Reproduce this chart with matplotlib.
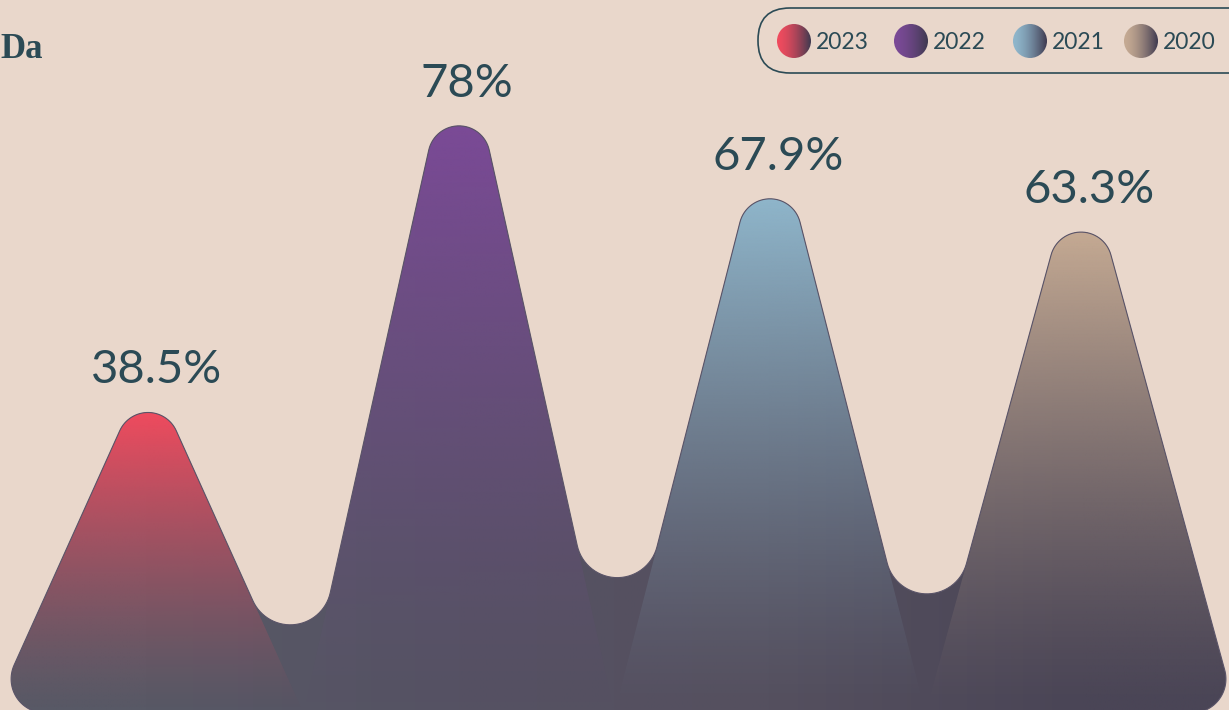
import numpy as np
import matplotlib
matplotlib.use('Agg')
import matplotlib.pyplot as plt
from matplotlib.colors import to_rgb
from matplotlib.path import Path
from matplotlib.patches import PathPatch, Circle, FancyBboxPatch

# data
years = ['2023', '2022', '2021', '2020']
values = [38.5, 78, 67.9, 63.3]
top_colors = ['#F04B5E', '#7B4A97', '#8FB6CB', '#C5AA93']
bottom_colors = ['#585966', '#555263', '#55505F', '#4A4556']

BG = '#E9D7CB'
INK = '#2B4A55'

plt.rcParams['font.family'] = ['Lato', 'DejaVu Sans']

fig = plt.figure(figsize=(12.29, 7.10), dpi=100)
fig.patch.set_facecolor(BG)
ax = fig.add_axes([0, 0, 1, 1])
ax.set_facecolor(BG)
ax.axis('off')
ax.set_xlim(-148 / 311, (1229 - 148) / 311)
ax.set_ylim(3 / 8.96, 713 / 8.96)
ax.set_autoscale_on(False)


def fillet(points, radii, n=32):
    # round the corners of a closed polygon (pixel space)
    out = []
    m = len(points)
    for j in range(m):
        p = points[j]
        r = radii[j]
        if r <= 0:
            out.append(p)
            continue
        a = points[j - 1]
        c = points[(j + 1) % m]
        u1 = (a - p) / np.linalg.norm(a - p)
        u2 = (c - p) / np.linalg.norm(c - p)
        half = np.arccos(np.clip(u1 @ u2, -1, 1)) / 2
        d = r / np.tan(half)
        t1 = p + u1 * d
        t2 = p + u2 * d
        bis = (u1 + u2) / np.linalg.norm(u1 + u2)
        o = p + bis * r / np.sin(half)
        a1 = np.arctan2(t1[1] - o[1], t1[0] - o[0])
        a2 = np.arctan2(t2[1] - o[1], t2[0] - o[0])
        delta = (a2 - a1 + np.pi) % (2 * np.pi) - np.pi
        ang = a1 + delta * np.linspace(0, 1, n)
        out.extend(o + r * np.c_[np.cos(ang), np.sin(ang)])
    return np.array(out)


def rounded_path(data_pts, radii):
    px = ax.transData.transform(np.array(data_pts, dtype=float))
    rounded = fillet(px, radii)
    back = ax.transData.inverted().transform(rounded)
    verts = np.vstack([back, back[:1]])
    codes = [Path.MOVETO] + [Path.LINETO] * (len(back) - 1) + [Path.CLOSEPOLY]
    return Path(verts, codes)


R_TOP, R_VALLEY, R_BASE = 31, 41, 34
n = len(values)

# whole silhouette
outline = [(-0.5, 0)]
radii = [R_BASE]
for i, v in enumerate(values):
    outline.append((i, v))
    radii.append(R_TOP)
    if i < n - 1:
        outline.append((i + 0.5, 0))
        radii.append(R_VALLEY)
outline.append((n - 0.5, 0))
radii.append(R_BASE)
union = rounded_path(outline, radii)
union_clip = PathPatch(union, facecolor='none', edgecolor='none', transform=ax.transData)
ax.add_patch(union_clip)

# dark base, blending the bottom colours from left to right
xs = np.linspace(-0.5, n - 0.5, 400)
base_rgb = np.array([to_rgb(c) for c in bottom_colors])
row = np.stack([np.interp(xs, np.arange(n), base_rgb[:, k]) for k in range(3)], axis=-1)
base_img = np.repeat(row[None, :, :], 2, axis=0)
im = ax.imshow(base_img, extent=(-0.5, n - 0.5, 0, max(values)), origin='lower',
               aspect='auto', zorder=1, interpolation='bilinear')
im.set_clip_path(union_clip)

# each mountain: its colour fading into the dark base
for i, v in enumerate(values):
    tri = [(i - 0.5, 0), (i, v), (i + 0.5, 0)]
    rr = [R_BASE if i == 0 else 0, R_TOP, R_BASE if i == n - 1 else 0]
    path = rounded_path(tri, rr)
    top = path.vertices[:, 1].max()
    clip = PathPatch(path, facecolor='none', edgecolor='none', transform=ax.transData)
    ax.add_patch(clip)
    t = np.linspace(0, 1, 256)
    rgba = np.zeros((256, 1, 4))
    rgba[:, 0, :3] = to_rgb(top_colors[i])
    rgba[:, 0, 3] = t ** 1.35
    im = ax.imshow(rgba, extent=(i - 0.5, i + 0.5, 0, top), origin='lower',
                   aspect='auto', zorder=2, interpolation='bilinear')
    im.set_clip_path(clip)
    ax.annotate(f'{v:g}%', (i, top), xytext=(6, 21), textcoords='offset points',
                ha='center', va='baseline', fontsize=34, fontweight='normal',
                color=INK, zorder=5)

ax.add_patch(PathPatch(union, facecolor='none', edgecolor='#5A5468', lw=0.8, zorder=3))

# overlay in pixel units for title and legend
ov = fig.add_axes([0, 0, 1, 1], facecolor='none')
ov.axis('off')
ov.set_xlim(0, 1229)
ov.set_ylim(710, 0)
ov.set_autoscale_on(False)

ov.text(0, 58, 'Da', fontsize=25, fontweight='bold', color=INK,
        family=['Liberation Serif', 'DejaVu Serif'], va='baseline', ha='left')

ov.add_patch(FancyBboxPatch((758, 8), 520, 65, boxstyle='round,pad=0,rounding_size=32',
                            facecolor='none', edgecolor=INK, lw=1.2))
legend_x = [794, 911, 1030, 1141]
for cx, yr, col in zip(legend_x, years, top_colors):
    circ = Circle((cx, 41), 17, facecolor='none', edgecolor='none')
    ov.add_patch(circ)
    t = np.linspace(0, 1, 64)[None, :, None] ** 1.6
    c0 = np.array(to_rgb(col))
    c1 = np.array(to_rgb('#3F3A50'))
    grad = c0 * (1 - t) + c1 * t
    im = ov.imshow(grad, extent=(cx - 17, cx + 17, 58, 24), aspect='auto',
                   interpolation='bilinear')
    im.set_clip_path(circ)
    ov.text(cx + 22, 49, yr, fontsize=16.5, color=INK, va='baseline', ha='left')

fig.savefig('out.png', dpi=100, facecolor=BG)
